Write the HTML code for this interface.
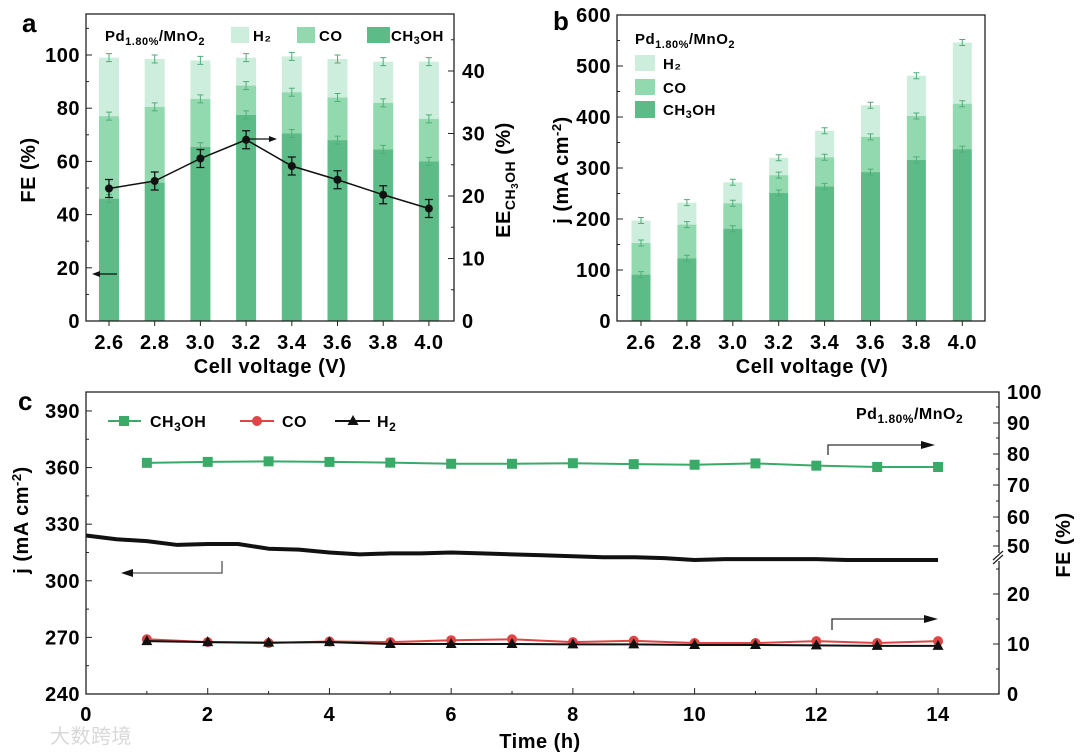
<!DOCTYPE html>
<html><head><meta charset="utf-8"><style>
body{margin:0;background:#fff;}
svg{display:block;font-family:"Liberation Sans","Noto Sans CJK SC",sans-serif;font-weight:bold;letter-spacing:0.5px;}
</style></head><body>
<svg id="fig" width="1080" height="754" viewBox="0 0 1080 754"></svg>
<script>
// ---------- data ----------
const voltages = ["2.6","2.8","3.0","3.2","3.4","3.6","3.8","4.0"];
const feCH3OH = [46,52,65.5,77.5,70.5,68,64.5,60];
const feCOtop = [77,80.5,83.5,88.5,86,84,82,76];
const feH2top = [99,98.5,98,99,99.5,98.5,97.5,97.5];
const eeCH3OH = [21.2,22.4,26,29,24.8,22.6,20.2,18];
const jCH3OH = [91,123,181,251,264,292,316,337];
const jCOtop = [153,189,231,286,321,361,402,426];
const jH2top = [197,232,272,320,373,423,481,546];
const hours = [1,2,3,4,5,6,7,8,9,10,11,12,13,14];
const cCH3OH = [362.5,363,363.3,363,362.6,362,362,362.3,361.8,361.5,362.2,361,360.3,360.3];
const cCO = [269,267.5,267,267.8,267.5,268.5,269,267.5,268.2,267,267,268,267,268];
const cH2 = [268,267.5,267.2,267.5,266.5,266.5,266.5,266.3,266.3,266,266,265.8,265.5,265.5];
const jTime = [0,0.5,1,1.5,2,2.5,3,3.5,4,4.5,5,5.5,6,6.5,7,7.5,8,8.5,9,9.5,10,10.5,11,11.5,12,12.5,13,13.5,14];
const jCurve = [324,322,321,319,319.5,319.5,317,316.5,315,314,314.5,314.5,315,314.5,314,313.5,313,312.5,312.5,312,311,311.5,311.5,311.5,311.5,311,311,311,311];

const NS="http://www.w3.org/2000/svg";
const svg=document.getElementById('fig');
function el(tag,attrs,parent,text){const e=document.createElementNS(NS,tag);for(const k in attrs)e.setAttribute(k,attrs[k]);if(text!==undefined)e.textContent=text;(parent||svg).appendChild(e);return e;}
const C1="#5dbb87",C2="#93d9b0",C3="#cdeedc",EB="#4fae78";
const FS=20;

// ---------- panel a ----------
const aL=86,aR=454,aT=14,aB=321;
const ay=v=>321-v*2.66, ay2=v=>321-v*6.25, ax=i=>109+i*45.7;
const ga=el('g',{});  
voltages.forEach((v,i)=>{
  const x=ax(i),w=20;
  let r=el('rect',{x:x-w/2,y:ay(feH2top[i]),width:w,height:ay(feCOtop[i])-ay(feH2top[i]),fill:C3},ga);
   
  r=el('rect',{x:x-w/2,y:ay(feCOtop[i]),width:w,height:ay(feCH3OH[i])-ay(feCOtop[i]),fill:C2},ga);
   
  r=el('rect',{x:x-w/2,y:ay(feCH3OH[i]),width:w,height:aB-ay(feCH3OH[i]),fill:C1},ga);
   
  [feH2top[i],feCOtop[i],feCH3OH[i]].forEach(t=>{
    el('path',{d:`M${x},${ay(t)-4}V${ay(t)+4}M${x-3},${ay(t)-4}h6M${x-3},${ay(t)+4}h6`,stroke:EB,'stroke-width':1,fill:'none'},ga);
  });
  el('text',{x:x,y:349,'text-anchor':'middle','font-size':FS},ga,v);
});
let d='';eeCH3OH.forEach((v,i)=>{d+=(i?'L':'M')+ax(i)+','+ay2(v);});
let ln=el('path',{d:d,stroke:'#111','stroke-width':1.5,fill:'none'},ga);
 
eeCH3OH.forEach((v,i)=>{const x=ax(i),y=ay2(v);
  el('path',{d:`M${x},${y-9}V${y+9}M${x-4},${y-9}h8M${x-4},${y+9}h8`,stroke:'#111','stroke-width':1.3},ga);
  const c=el('circle',{cx:x,cy:y,r:4,fill:'#111'},ga);  });
el('rect',{x:aL,y:aT,width:aR-aL,height:aB-aT,fill:'none',stroke:'#222','stroke-width':1.3},ga);
for(let v=0;v<=110;v+=10){const y=ay(v);el('line',{x1:aL,x2:aL+(v%20?3:6),y1:y,y2:y,stroke:'#222'},ga);
  if(v%20==0)el('text',{x:aL-6,y:y+7,'text-anchor':'end','font-size':FS},ga,v);}
for(let v=0;v<=45;v+=5){const y=ay2(v);el('line',{x1:aR,x2:aR-(v%10?3:6),y1:y,y2:y,stroke:'#222'},ga);
  if(v%10==0)el('text',{x:aR+8,y:y+7,'font-size':FS},ga,v);}
voltages.forEach((v,i)=>el('line',{x1:ax(i),x2:ax(i),y1:aB,y2:aB+5,stroke:'#222'},ga));
el('text',{x:270,y:373,'text-anchor':'middle','font-size':FS},ga,'Cell voltage (V)');
el('text',{transform:'translate(35,170) rotate(-90)','text-anchor':'middle','font-size':FS},ga,'FE (%)');
const eet=el('text',{transform:'translate(510,180) rotate(-90)','text-anchor':'middle','font-size':FS},ga);
el('tspan',{},eet,'EE');el('tspan',{'font-size':14,dy:5},eet,'CH');el('tspan',{'font-size':10,dy:3},eet,'3');el('tspan',{'font-size':14,dy:-3},eet,'OH');el('tspan',{dy:-5},eet,' (%)');
const la=el('text',{x:105,y:41,'font-size':15},ga);el('tspan',{},la,'Pd');el('tspan',{'font-size':11,dy:4},la,'1.80%');el('tspan',{dy:-4},la,'/MnO');el('tspan',{'font-size':11,dy:4},la,'2');
el('rect',{x:231,y:27,width:18,height:16,fill:C3},ga);el('text',{x:253,y:41,'font-size':15},ga,'H₂');
el('rect',{x:297,y:27,width:18,height:16,fill:C2},ga);el('text',{x:319,y:41,'font-size':15},ga,'CO');
el('rect',{x:367,y:27,width:23,height:16,fill:C1},ga);
const lt=el('text',{x:391,y:41,'font-size':15},ga);el('tspan',{},lt,'CH');el('tspan',{'font-size':11,dy:3},lt,'3');el('tspan',{dy:-3},lt,'OH');
el('path',{d:'M117,274H98',stroke:'#111','stroke-width':1.3},ga);el('path',{d:'M92,274l8,-3v6z',fill:'#111'},ga);
el('path',{d:'M247,139H270',stroke:'#111','stroke-width':1.3},ga);el('path',{d:'M277,139l-8,-3v6z',fill:'#111'},ga);
el('text',{x:22,y:32,'font-size':26},ga,'a');

// ---------- panel b ----------
const bL=617,bR=985,bT=15,bB=321;
const by=v=>321-v*0.51, bx=i=>641+i*45.9;
const gb=el('g',{});  
voltages.forEach((v,i)=>{
  const x=bx(i),w=19;
  let r=el('rect',{x:x-w/2,y:by(jH2top[i]),width:w,height:by(jCOtop[i])-by(jH2top[i]),fill:C3},gb);
   
  r=el('rect',{x:x-w/2,y:by(jCOtop[i]),width:w,height:by(jCH3OH[i])-by(jCOtop[i]),fill:C2},gb);
   
  r=el('rect',{x:x-w/2,y:by(jCH3OH[i]),width:w,height:bB-by(jCH3OH[i]),fill:C1},gb);
   
  [jH2top[i],jCOtop[i],jCH3OH[i]].forEach(t=>{
    el('path',{d:`M${x},${by(t)-3}V${by(t)+3}M${x-3},${by(t)-3}h6M${x-3},${by(t)+3}h6`,stroke:EB,'stroke-width':1,fill:'none'},gb);
  });
  el('line',{x1:x,x2:x,y1:bB,y2:bB+5,stroke:'#222'},gb);
  el('text',{x:x,y:349,'text-anchor':'middle','font-size':FS},gb,v);
});
el('rect',{x:bL,y:bT,width:bR-bL,height:bB-bT,fill:'none',stroke:'#222','stroke-width':1.3},gb);
for(let v=0;v<=600;v+=50){const y=by(v);el('line',{x1:bL,x2:bL+(v%100?3:6),y1:y,y2:y,stroke:'#222'},gb);
  if(v%100==0)el('text',{x:bL-6,y:y+7,'text-anchor':'end','font-size':FS},gb,v);}
el('text',{x:812,y:373,'text-anchor':'middle','font-size':FS},gb,'Cell voltage (V)');
const bt=el('text',{transform:'translate(568,170) rotate(-90)','text-anchor':'middle','font-size':FS},gb);
el('tspan',{},bt,'j (mA cm');el('tspan',{'font-size':13,dy:-7},bt,'-2');el('tspan',{dy:7},bt,')');
const lb=el('text',{x:635,y:44,'font-size':15},gb);el('tspan',{},lb,'Pd');el('tspan',{'font-size':11,dy:4},lb,'1.80%');el('tspan',{dy:-4},lb,'/MnO');el('tspan',{'font-size':11,dy:4},lb,'2');
el('rect',{x:635,y:55,width:20,height:16,fill:C3},gb);el('text',{x:663,y:69,'font-size':15},gb,'H₂');
el('rect',{x:635,y:79,width:20,height:16,fill:C2},gb);el('text',{x:663,y:93,'font-size':15},gb,'CO');
el('rect',{x:635,y:101,width:20,height:17,fill:C1},gb);
const lt2=el('text',{x:663,y:115,'font-size':15},gb);el('tspan',{},lt2,'CH');el('tspan',{'font-size':11,dy:3},lt2,'3');el('tspan',{dy:-3},lt2,'OH');
el('text',{x:553,y:30,'font-size':26},gb,'b');

// ---------- panel c ----------
const cL=86,cR=999,cT=392,cB=694;
const cy=v=>694-(v-240)*1.887, cx=t=>86+t*60.86;
const gc=el('g',{});  
d='';jTime.forEach((t,i)=>{d+=(i?'L':'M')+cx(t)+','+cy(jCurve[i]);});
ln=el('path',{d:d,stroke:'#111','stroke-width':4,fill:'none','stroke-linejoin':'round'},gc);
 
function series(vals,color,name,marker){
  let p='';vals.forEach((v,i)=>{p+=(i?'L':'M')+cx(hours[i])+','+cy(v);});
  const l=el('path',{d:p,stroke:color,'stroke-width':2,fill:'none'},gc);
   
  vals.forEach((v,i)=>{const x=cx(hours[i]),y=cy(v);let m;
    if(marker=='sq')m=el('rect',{x:x-5,y:y-5,width:10,height:10,fill:color},gc);
    else if(marker=='ci')m=el('circle',{cx:x,cy:y,r:5,fill:color},gc);
    else m=el('path',{d:`M${x},${y-6}L${x+5.5},${y+4}H${x-5.5}z`,fill:color},gc);
     });
}
series(cCH3OH,'#3aaa68','ch3oh','sq');
series(cCO,'#e04545','co','ci');
series(cH2,'#111','h2','tr');
el('rect',{x:cL,y:cT,width:cR-cL,height:cB-cT,fill:'none',stroke:'#222','stroke-width':1.3},gc);
for(let v=240;v<=395;v+=15){const y=cy(v);el('line',{x1:cL,x2:cL+(v%30?3:6),y1:y,y2:y,stroke:'#222'},gc);
  if(v%30==0)el('text',{x:cL-6,y:y+7,'text-anchor':'end','font-size':FS},gc,v);}
for(let t=0;t<=15;t++){const x=cx(t);el('line',{x1:x,x2:x,y1:cB,y2:cB-(t%2?3:6),stroke:'#222'},gc);
  if(t%2==0&&t<=14)el('text',{x:x,y:721,'text-anchor':'middle','font-size':FS},gc,t);}
const rTicks=[[0,694],[10,644],[20,594],[50,546],[60,517],[70,485],[80,454],[90,423],[100,392]];
rTicks.forEach(([v,y])=>{el('line',{x1:cR,x2:cR-6,y1:y,y2:y,stroke:'#222'},gc);el('text',{x:cR+8,y:y+7,'font-size':FS},gc,v);});
[669,619,569,531,501,469,438,407].forEach(y=>el('line',{x1:cR,x2:cR-3,y1:y,y2:y,stroke:'#222'},gc));
el('rect',{x:cR-3,y:553,width:6,height:8,fill:'#fff'},gc);
el('path',{d:`M${cR-6},${560}l10,-9M${cR-6},${564}l10,-9`,stroke:'#222','stroke-width':1.2},gc);
el('text',{x:540,y:748,'text-anchor':'middle','font-size':FS},gc,'Time (h)');
const ct=el('text',{transform:'translate(28,520) rotate(-90)','text-anchor':'middle','font-size':FS},gc);
el('tspan',{},ct,'j (mA cm');el('tspan',{'font-size':13,dy:-7},ct,'-2');el('tspan',{dy:7},ct,')');
el('text',{transform:'translate(1070,545) rotate(-90)','text-anchor':'middle','font-size':FS},gc,'FE (%)');
el('line',{x1:108,x2:141,y1:421,y2:421,stroke:'#3aaa68','stroke-width':2},gc);el('rect',{x:119,y:416,width:10,height:10,fill:'#3aaa68'},gc);
const lc=el('text',{x:150,y:427,'font-size':16},gc);el('tspan',{},lc,'CH');el('tspan',{'font-size':12,dy:4},lc,'3');el('tspan',{dy:-4},lc,'OH');
el('line',{x1:240,x2:274,y1:421,y2:421,stroke:'#e04545','stroke-width':2},gc);el('circle',{cx:257,cy:421,r:5,fill:'#e04545'},gc);
el('text',{x:282,y:427,'font-size':16},gc,'CO');
el('line',{x1:335,x2:370,y1:421,y2:421,stroke:'#111','stroke-width':2},gc);el('path',{d:'M353,415l5.5,10h-11z',fill:'#111'},gc);
const lh=el('text',{x:377,y:427,'font-size':16},gc);el('tspan',{},lh,'H');el('tspan',{'font-size':12,dy:4},lh,'2');
const lp=el('text',{x:856,y:419,'font-size':16},gc);el('tspan',{},lp,'Pd');el('tspan',{'font-size':12,dy:4},lp,'1.80%');el('tspan',{dy:-4},lp,'/MnO');el('tspan',{'font-size':12,dy:4},lp,'2');
el('path',{d:'M222,561V573H130',stroke:'#555','stroke-width':1.3,fill:'none'},gc);el('path',{d:'M121,573l12,-4v8z',fill:'#111'},gc);
el('path',{d:'M828,455V445H925',stroke:'#333','stroke-width':1.3,fill:'none'},gc);el('path',{d:'M935,445l-14,-4v8z',fill:'#111'},gc);
el('path',{d:'M832,630V619H928',stroke:'#333','stroke-width':1.3,fill:'none'},gc);el('path',{d:'M938,619l-14,-4v8z',fill:'#111'},gc);
el('text',{x:18,y:410,'font-size':26},gc,'c');
const wm=el('text',{x:50,y:743,'font-size':20,fill:'#d8d8d8','font-weight':'normal'},svg,'大数跨境');
 
</script>
</body></html>
